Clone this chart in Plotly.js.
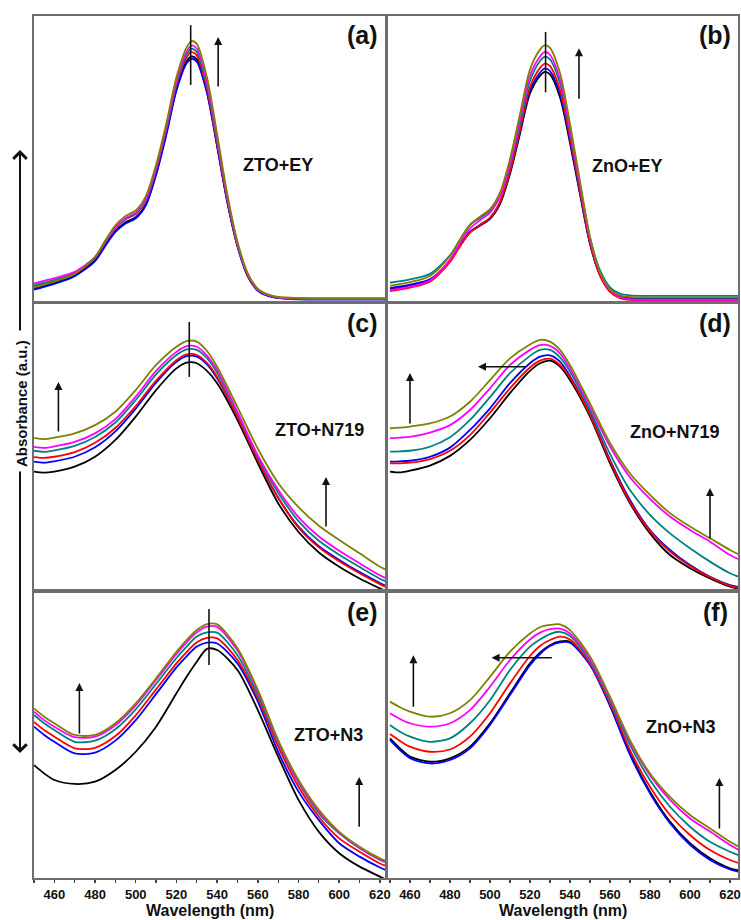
<!DOCTYPE html>
<html>
<head>
<meta charset="utf-8">
<script src="https://cdn.plot.ly/plotly-3.0.1.min.js"></script>
<style>
  html, body { margin: 0; padding: 0; background: #ffffff; }
  #fig { width: 741px; height: 920px; }
</style>
</head>
<body>
<div id="fig"></div>
<script>
// Wavelength grids (nm): finer sampling for the sharp Eosin Y band
const wlEY  = [450,460,470,480,485,490,495,500,505,510,515,520,525,527.5,530,535,540,545,550,555,560,565,570,580,600,625];
const wlDye = [450,455,460,470,480,490,500,510,520,525,530,535,540,550,560,570,580,590,600,610,620,625];

// Curve colours, drawn in this order: black, blue, red, dark cyan, magenta, olive
const seriesColors = ['#000000', '#0000ff', '#ff0000', '#008080', '#ff00ff', '#808000'];

// (a) ZTO+EY absorbance (a.u.)
const aK = [.045,.064,.090,.143,.196,.245,.276,.294,.340,.447,.588,.745,.842,.858,.848,.735,.545,.348,.192,.088,.037,.019,.011,.008,.007,.007];
const aB = [.040,.060,.087,.140,.193,.242,.272,.290,.336,.442,.582,.738,.834,.850,.840,.730,.542,.347,.192,.088,.036,.018,.010,.006,.005,.005];
const aR = [.050,.070,.095,.150,.205,.255,.287,.305,.352,.460,.600,.758,.855,.873,.862,.745,.553,.354,.196,.091,.039,.021,.012,.009,.008,.008];
const aT = [.055,.074,.098,.152,.206,.256,.288,.307,.355,.464,.605,.764,.866,.885,.874,.757,.562,.360,.199,.093,.040,.021,.012,.009,.008,.008];
const aM = [.062,.080,.102,.155,.208,.258,.290,.310,.358,.468,.610,.770,.875,.897,.886,.768,.570,.365,.202,.094,.040,.021,.012,.009,.008,.008];
const aO = [.048,.068,.095,.155,.212,.265,.298,.318,.368,.478,.622,.785,.890,.912,.902,.785,.585,.375,.208,.098,.043,.023,.014,.010,.009,.009];

// (b) ZnO+EY
const bK = [.041,.053,.073,.141,.194,.241,.264,.288,.340,.446,.587,.728,.790,.804,.795,.715,.555,.375,.200,.090,.035,.015,.010,.008,.008,.008];
const bB = [.045,.057,.076,.143,.196,.243,.267,.292,.345,.452,.595,.738,.801,.816,.807,.726,.563,.380,.203,.092,.037,.016,.010,.008,.008,.008];
const bR = [.035,.047,.068,.137,.192,.241,.266,.292,.347,.456,.602,.750,.818,.833,.824,.741,.575,.387,.205,.090,.032,.010,.004,.003,.003,.003];
const bT = [.064,.076,.095,.160,.215,.266,.292,.316,.368,.476,.622,.772,.842,.857,.848,.764,.595,.405,.222,.108,.048,.026,.020,.018,.018,.018];
const bM = [.038,.050,.072,.145,.203,.255,.283,.310,.366,.482,.636,.790,.858,.874,.864,.778,.604,.408,.218,.098,.038,.014,.006,.004,.004,.004];
const bO = [.053,.066,.088,.158,.215,.268,.296,.322,.380,.498,.655,.812,.882,.898,.888,.800,.622,.420,.225,.102,.042,.020,.014,.012,.012,.012];

// (c) ZTO+N719
const cK = [.412,.408,.412,.429,.464,.523,.605,.698,.774,.794,.792,.765,.722,.593,.441,.301,.200,.128,.078,.037,.002,-.015];
const cB = [.447,.443,.448,.464,.497,.553,.633,.724,.797,.817,.815,.788,.739,.604,.452,.320,.219,.150,.102,.059,.021,.004];
const cR = [.463,.460,.464,.480,.513,.565,.642,.731,.803,.823,.821,.793,.744,.604,.452,.320,.215,.146,.097,.055,.017,.000];
const cT = [.485,.481,.486,.502,.533,.584,.663,.753,.821,.841,.839,.810,.759,.616,.464,.338,.238,.169,.120,.077,.036,.020];
const cM = [.499,.495,.500,.516,.546,.596,.675,.765,.832,.852,.850,.819,.768,.621,.469,.348,.252,.184,.134,.090,.048,.031];
const cO = [.529,.526,.531,.546,.575,.622,.698,.786,.850,.870,.868,.835,.780,.638,.492,.372,.287,.222,.172,.125,.078,.062];

// (d) ZnO+N719
const dK = [.412,.409,.415,.433,.467,.523,.599,.687,.765,.792,.801,.780,.733,.605,.441,.301,.195,.119,.073,.037,.008,.000];
const dB = [.447,.448,.450,.464,.496,.558,.634,.722,.792,.815,.820,.798,.747,.616,.453,.312,.207,.137,.084,.043,.014,.006];
const dR = [.441,.441,.443,.456,.485,.540,.619,.704,.777,.801,.808,.786,.742,.611,.449,.306,.203,.131,.081,.041,.011,.002];
const dT = [.482,.483,.485,.499,.532,.593,.673,.757,.818,.839,.839,.813,.763,.628,.474,.347,.260,.195,.143,.096,.055,.041];
const dM = [.529,.531,.534,.549,.575,.628,.704,.786,.839,.856,.853,.827,.774,.640,.500,.392,.316,.254,.207,.166,.119,.102];
const dO = [.564,.566,.570,.581,.605,.657,.733,.809,.858,.874,.868,.839,.786,.651,.512,.405,.330,.266,.219,.178,.137,.119];

// (e) ZTO+N3
const eK = [.396,.367,.344,.330,.338,.379,.443,.531,.648,.706,.759,.804,.800,.730,.589,.426,.274,.162,.087,.040,.005,-.013];
const eB = [.531,.502,.478,.437,.440,.482,.554,.646,.739,.778,.812,.826,.823,.753,.619,.443,.303,.203,.122,.075,.037,.022];
const eR = [.548,.519,.496,.455,.457,.498,.571,.662,.753,.793,.827,.843,.841,.765,.630,.461,.320,.215,.139,.092,.051,.037];
const eT = [.572,.543,.519,.478,.482,.522,.592,.681,.772,.812,.847,.862,.861,.782,.642,.473,.334,.227,.157,.104,.063,.048];
const eM = [.584,.554,.531,.494,.496,.536,.606,.695,.786,.827,.862,.882,.881,.798,.654,.478,.338,.233,.159,.106,.065,.050];
const eO = [.595,.566,.543,.502,.502,.543,.613,.701,.794,.835,.870,.891,.890,.806,.660,.484,.344,.239,.162,.110,.069,.054];

// (f) ZnO+N3
const fK = [.490,.455,.426,.408,.420,.461,.543,.648,.753,.791,.817,.830,.829,.751,.607,.437,.303,.198,.122,.069,.034,.026];
const fB = [.484,.449,.420,.402,.414,.455,.537,.642,.747,.786,.814,.827,.826,.747,.604,.432,.297,.192,.116,.063,.030,.021];
const fR = [.505,.481,.461,.443,.451,.496,.578,.683,.779,.814,.835,.847,.837,.753,.613,.449,.320,.221,.151,.098,.063,.051];
const fT = [.537,.513,.496,.478,.490,.543,.624,.730,.812,.837,.856,.864,.849,.759,.622,.467,.344,.250,.180,.127,.092,.078];
const fM = [.578,.558,.543,.531,.543,.589,.671,.765,.837,.861,.873,.875,.858,.767,.630,.478,.361,.274,.209,.163,.116,.096];
const fO = [.619,.599,.584,.566,.578,.624,.706,.794,.858,.880,.888,.890,.870,.777,.636,.484,.367,.285,.221,.174,.127,.108];

const panelLetters = ['(a)', '(b)', '(c)', '(d)', '(e)', '(f)'];
const sampleNames  = ['ZTO+EY', 'ZnO+EY', 'ZTO+N719', 'ZnO+N719', 'ZTO+N3', 'ZnO+N3'];
const xTickVals    = [460, 480, 500, 520, 540, 560, 580, 600, 620];

const panels = [
  { wl: wlEY,  series: [aK, aB, aR, aT, aM, aO] },
  { wl: wlEY,  series: [bK, bB, bR, bT, bM, bO] },
  { wl: wlDye, series: [cK, cB, cR, cT, cM, cO] },
  { wl: wlDye, series: [dK, dB, dR, dT, dM, dO] },
  { wl: wlDye, series: [eK, eB, eR, eT, eM, eO] },
  { wl: wlDye, series: [fK, fB, fR, fT, fM, fO] }
];

const FONT = 'Arial, "Liberation Sans", sans-serif';
const colDomains = [[0, 0.4986], [0.5028, 1]];
const rowDomains = [[0.6694, 1], [0.3353, 0.6659], [0, 0.3306]];
const xRanges    = [[450, 622.5], [449, 624]];
const frameColor = '#6e6e6e';

const suffix = i => (i === 0 ? '' : String(i + 1));

const traces = [];
panels.forEach((p, i) => {
  p.series.forEach((ys, k) => {
    traces.push({
      x: p.wl, y: ys,
      xaxis: 'x' + suffix(i), yaxis: 'y' + suffix(i),
      type: 'scatter', mode: 'lines',
      line: { color: seriesColors[k], width: 1.8, shape: 'spline', smoothing: 0.8 },
      hoverinfo: 'skip', showlegend: false
    });
  });
});

const layout = {
  width: 741, height: 920,
  margin: { l: 34, r: 3, t: 16, b: 42 },
  paper_bgcolor: '#ffffff', plot_bgcolor: '#ffffff',
  showlegend: false,
  font: { family: FONT, color: '#111111' },
  annotations: [], shapes: []
};

panels.forEach((p, i) => {
  const s = suffix(i), col = i % 2, row = Math.floor(i / 2);
  const bottom = row === 2;
  layout['xaxis' + s] = {
    domain: colDomains[col], range: xRanges[col], anchor: 'y' + s,
    showline: true, mirror: true, linecolor: frameColor, linewidth: 2,
    showgrid: false, zeroline: false, automargin: false,
    showticklabels: bottom, ticklabeloverflow: 'allow',
    ticks: bottom ? 'outside' : '', tickmode: 'array', tickvals: xTickVals,
    ticklen: 3, tickwidth: 1.5, tickcolor: '#444444',
    tickfont: { family: FONT, size: 13, weight: 'bold', color: '#111111' },
    minor: bottom ? { dtick: 10, tick0: 450, ticks: 'outside', ticklen: 3, tickwidth: 1.2, tickcolor: '#444444' } : undefined
  };
  layout['yaxis' + s] = {
    domain: rowDomains[row], range: [0, 1], anchor: 'x' + s,
    showline: true, mirror: true, linecolor: frameColor, linewidth: 2,
    showgrid: false, zeroline: false, showticklabels: false, ticks: '',
    automargin: false
  };
  layout.annotations.push({
    xref: 'x' + s + ' domain', yref: 'y' + s + ' domain', x: 0.935, y: 0.935,
    xanchor: 'center', yanchor: 'middle',
    text: panelLetters[i], showarrow: false,
    font: { family: FONT, size: 25, weight: 'bold', color: '#111111' }
  });
  if (bottom) {
    // axis title placed just under the tick labels
    layout.annotations.push({
      xref: 'x' + s + ' domain', yref: 'paper', x: 0.5, y: -0.0377,
      xanchor: 'center', yanchor: 'middle',
      text: 'Wavelength (nm)', showarrow: false,
      font: { family: FONT, size: 16, weight: 'bold', color: '#111111' }
    });
  }
});

// sample names inside each panel
const namePos = [[569.8, .477], [569, .475], [590.5, .558], [592.3, .552], [594.9, .502], [595.5, .531]];
sampleNames.forEach((t, i) => {
  const s = suffix(i);
  layout.annotations.push({
    xref: 'x' + s, yref: 'y' + s, x: namePos[i][0], y: namePos[i][1],
    xanchor: 'center', yanchor: 'middle',
    text: t, showarrow: false,
    font: { family: FONT, size: 18, weight: 'bold', color: '#111111' }
  });
});

// trend arrows: [panel, head x, head y, tail x, tail y]
const trendArrows = [
  [0, 540.5, .926, 540.5, .747],
  [1, 544.5, .887, 544.5, .704],
  [2, 462, .726, 462, .547], [2, 593.5, .393, 593.5, .214],
  [3, 460, .758, 460, .575], [3, 494, .780, 518.3, .780], [3, 610, .354, 610, .172],
  [4, 472.3, .684, 472.3, .502], [4, 609.8, .354, 609.8, .175],
  [5, 461.7, .782, 461.7, .596], [5, 500.8, .773, 531.7, .773], [5, 614.7, .351, 614.7, .168]
];
trendArrows.forEach(([i, x, y, ax, ay]) => {
  const s = suffix(i);
  layout.annotations.push({
    xref: 'x' + s, yref: 'y' + s, axref: 'x' + s, ayref: 'y' + s,
    x: x, y: y, ax: ax, ay: ay, text: '', showarrow: true,
    arrowhead: 2, arrowsize: 1, arrowwidth: 1.6, arrowcolor: '#111111', standoff: 0
  });
});

// vertical markers through the band maxima: [panel, x, y0, y1]
const peakMarks = [[0, 527, .758, .968], [1, 527.8, .732, .944], [2, 526.3, .744, .937], [4, 536, .747, .944]];
peakMarks.forEach(([i, x, y0, y1]) => {
  const s = suffix(i);
  layout.shapes.push({
    type: 'line', xref: 'x' + s, yref: 'y' + s, x0: x, x1: x, y0: y0, y1: y1,
    line: { color: '#111111', width: 1.6 }
  });
});

// shared y-axis label with long arrows above and below
layout.annotations.push({
  xref: 'paper', yref: 'paper', x: -0.0185, y: 0.551, textangle: -90,
  xanchor: 'center', yanchor: 'middle',
  text: 'Absorbance (a.u.)', showarrow: false,
  font: { family: FONT, size: 15, weight: 'bold', color: '#111111' }
});
layout.annotations.push({
  xref: 'paper', yref: 'paper', x: -0.0199, y: 0.8445, ax: 0, ay: 182,
  text: '', showarrow: true, arrowhead: 4, arrowsize: 1.3, arrowwidth: 2, arrowcolor: '#111111'
});
layout.annotations.push({
  xref: 'paper', yref: 'paper', x: -0.0199, y: 0.145, ax: 0, ay: -283,
  text: '', showarrow: true, arrowhead: 4, arrowsize: 1.3, arrowwidth: 2, arrowcolor: '#111111'
});

Plotly.newPlot('fig', traces, layout, { staticPlot: true, displayModeBar: false });
</script>
</body>
</html>
